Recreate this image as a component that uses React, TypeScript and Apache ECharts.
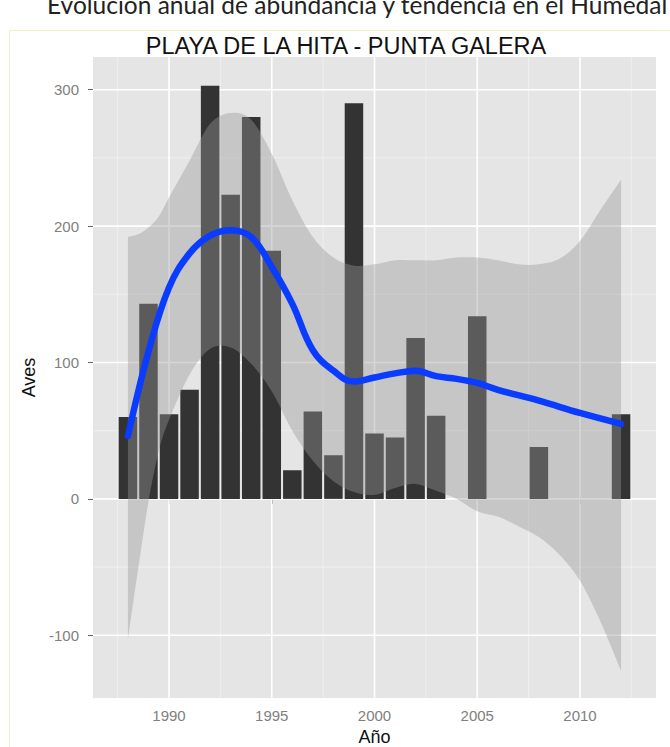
import React, { useEffect, useRef } from "react";
import * as echarts from "echarts";

const barYears = [1988, 1989, 1990, 1991, 1992, 1993, 1994, 1995, 1996, 1997, 1998, 1999, 2000, 2001, 2002, 2003, 2005, 2008, 2012];
const barValues = [60, 143, 62, 80, 303, 223, 280, 182, 21, 64, 32, 290, 48, 45, 118, 61, 134, 38, 62];

const trendYears = [1988, 1989, 1990, 1991, 1992, 1993, 1994, 1995, 1996, 1997, 1998, 1999, 2000, 2001, 2002, 2003, 2004, 2005, 2006, 2008, 2010, 2012];
const trendValues = [46, 108, 155, 180, 193, 197, 192, 170, 143, 109, 94, 86, 89, 92, 94, 90, 88, 85, 80, 72, 63, 55];

const bandYears = [1988, 1988.5, 1989, 1989.5, 1990, 1991, 1992, 1993, 1994, 1995, 1996, 1997, 1998, 1999, 2000, 2001, 2002, 2003, 2004, 2005, 2006, 2007, 2008, 2009, 2010, 2011, 2012];
const bandUpper = [192, 194, 199, 207, 221, 248, 275, 283, 278, 253, 219, 192, 177, 171, 172, 175, 175, 175, 177, 177, 175, 172, 172, 176, 189, 212, 234];
const bandLower = [-103, -51, -2, 35, 58, 91, 110, 111, 99, 79, 50, 28, 13, 5, 3, 8, 11, 6, 0, -9, -13, -20, -28, -41, -60, -90, -126];

const xTicks = [1990, 1995, 2000, 2005, 2010];
const xMinor = [1987.5, 1992.5, 1997.5, 2002.5, 2007.5, 2012.5];
const yTicks = [-100, 0, 100, 200, 300];
const yMinor = [-50, 50, 150, 250];

const chartTitle = "PLAYA DE LA HITA - PUNTA GALERA";
const caption = "Evolución anual de abundancia y tendencia en el Humedal";
const xName = "Año";
const yName = "Aves";

const X_MIN = 1986.3;
const X_MAX = 2013.7;
const Y_MIN = -146;
const Y_MAX = 324;

const FONT = "Liberation Sans, Arial, sans-serif";

function smoothSegments(pts: number[][]): string {
  let d = "";
  for (let i = 0; i < pts.length - 1; i++) {
    const p0 = pts[i - 1] || pts[i];
    const p1 = pts[i];
    const p2 = pts[i + 1];
    const p3 = pts[i + 2] || p2;
    const c1x = p1[0] + (p2[0] - p0[0]) / 6;
    const c1y = p1[1] + (p2[1] - p0[1]) / 6;
    const c2x = p2[0] - (p3[0] - p1[0]) / 6;
    const c2y = p2[1] - (p3[1] - p1[1]) / 6;
    d += ` C ${c1x} ${c1y} ${c2x} ${c2y} ${p2[0]} ${p2[1]}`;
  }
  return d;
}

export default function App() {
  const ref = useRef<HTMLDivElement>(null);
  useEffect(() => {
    const chart = echarts.init(ref.current!, null, { renderer: "svg" });
    const option: any = {
      animation: false,
      grid: {
        left: 93,
        right: 14,
        top: 57,
        bottom: 49,
        show: true,
        backgroundColor: "#e5e5e5",
        borderWidth: 0,
        containLabel: false,
        outerBoundsMode: "none",
      },
      graphic: [
        {
          type: "rect",
          silent: true,
          z: -10,
          shape: { x: 9.5, y: 30.5, width: 700, height: 800 },
          style: { fill: "none", stroke: "#f3efc4", lineWidth: 1 },
        },
        {
          type: "text",
          silent: true,
          style: {
            text: caption,
            x: 47,
            y: 4,
            fontSize: 24.5,
            fontFamily: "Lato, sans-serif",
            fill: "#222222",
            verticalAlign: "middle",
          },
        },
        {
          type: "text",
          silent: true,
          style: {
            text: chartTitle,
            x: 346,
            y: 46,
            fontSize: 23.5,
            fontFamily: FONT,
            fill: "#111111",
            align: "center",
            verticalAlign: "middle",
          },
        },
      ],
      xAxis: {
        type: "value",
        min: X_MIN,
        max: X_MAX,
        axisLine: { show: false },
        axisTick: { show: true, length: 5, lineStyle: { color: "#666666" }, customValues: xTicks },
        axisLabel: {
          customValues: xTicks,
          color: "#808080",
          fontSize: 15,
          margin: 10,
          fontFamily: FONT,
          formatter: (v: number) => String(v),
        },
        splitLine: { show: false },
        name: xName,
        nameLocation: "middle",
        nameGap: 29,
        nameTextStyle: { color: "#111111", fontSize: 18, fontFamily: FONT },
      },
      yAxis: {
        type: "value",
        min: Y_MIN,
        max: Y_MAX,
        axisLine: { show: false },
        axisTick: { show: true, length: 5, lineStyle: { color: "#666666" }, customValues: yTicks },
        axisLabel: {
          customValues: yTicks,
          color: "#808080",
          fontSize: 15,
          margin: 14,
          fontFamily: FONT,
          formatter: (v: number) => String(v),
        },
        splitLine: { show: false },
        name: yName,
        nameLocation: "middle",
        nameGap: 46,
        nameTextStyle: { color: "#111111", fontSize: 18, fontFamily: FONT },
      },
      series: [
        {
          type: "custom",
          z: 1,
          silent: true,
          data: [[2000, 0]],
          renderItem: (params: any, api: any) => {
            const children: any[] = [];
            const seg = (a: number[], b: number[], major: boolean) => ({
              type: "line",
              shape: { x1: a[0], y1: a[1], x2: b[0], y2: b[1] },
              style: { stroke: major ? "#ffffff" : "#f1f1f1", lineWidth: major ? 1.6 : 0.8 },
            });
            xMinor.forEach((v) => children.push(seg(api.coord([v, Y_MIN]), api.coord([v, Y_MAX]), false)));
            yMinor.forEach((v) => children.push(seg(api.coord([X_MIN, v]), api.coord([X_MAX, v]), false)));
            xTicks.forEach((v) => children.push(seg(api.coord([v, Y_MIN]), api.coord([v, Y_MAX]), true)));
            yTicks.forEach((v) => children.push(seg(api.coord([X_MIN, v]), api.coord([X_MAX, v]), true)));
            return { type: "group", children };
          },
        },
        {
          type: "bar",
          z: 2,
          barWidth: 18.5,
          itemStyle: { color: "#333333" },
          data: barYears.map((y, i) => [y, barValues[i]]),
        },
        {
          type: "custom",
          z: 3,
          silent: true,
          data: [[2000, 0]],
          renderItem: (params: any, api: any) => {
            const up = bandYears.map((x, i) => api.coord([x, bandUpper[i]]));
            const lo = bandYears.map((x, i) => api.coord([x, bandLower[i]])).reverse();
            const d =
              `M ${up[0][0]} ${up[0][1]}` +
              smoothSegments(up) +
              ` L ${lo[0][0]} ${lo[0][1]}` +
              smoothSegments(lo) +
              " Z";
            return {
              type: "path",
              shape: { pathData: d },
              style: { fill: "rgba(153,153,153,0.4)" },
            };
          },
        },
        {
          type: "line",
          z: 4,
          smooth: 0.4,
          symbol: "none",
          lineStyle: { color: "#0a3cff", width: 6.5, cap: "round" },
          data: trendYears.map((y, i) => [y, trendValues[i]]),
        },
      ],
    };
    chart.setOption(option);
    return () => chart.dispose();
  }, []);
  return (
    <div
      ref={ref}
      style={{ position: "absolute", left: 0, top: 0, width: 670, height: 747, background: "#ffffff" }}
    />
  );
}
